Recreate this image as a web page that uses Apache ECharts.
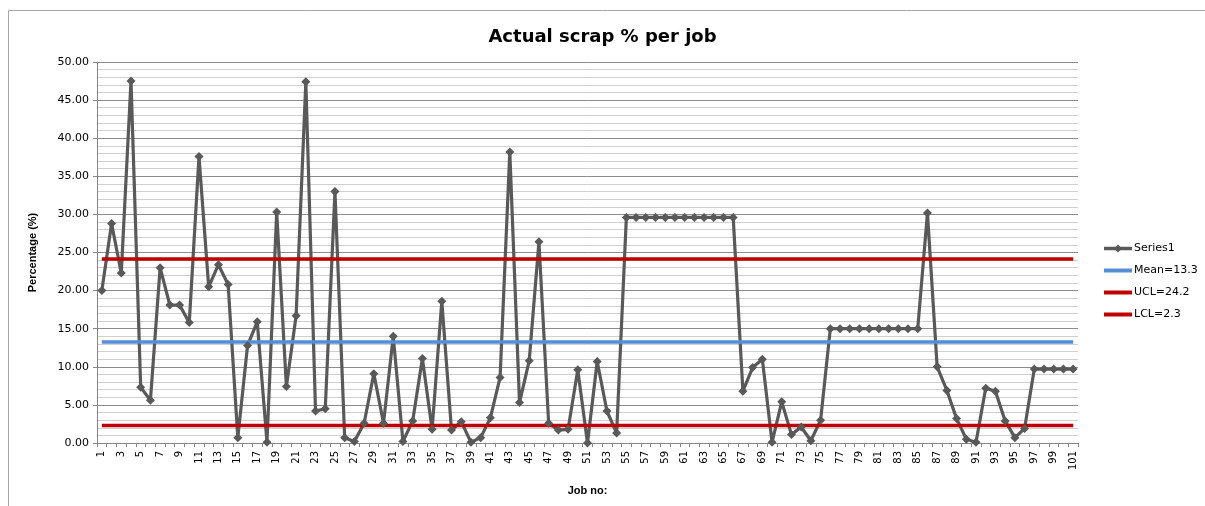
<!DOCTYPE html>
<html>
<head>
<meta charset="utf-8">
<script src="https://cdn.jsdelivr.net/npm/echarts@6/dist/echarts.min.js"></script>
<style>
html,body{margin:0;padding:0;background:#fff;}
#chart{width:1205px;height:506px;}
</style>
</head>
<body>
<div id="chart"></div>
<script>
// ---- data ----
const jobs = ['1','2','3','4','5','6','7','8','9','10','11','12','13','14','15','16','17','18','19','20',
  '21','22','23','24','25','26','27','28','29','30','31','32','33','34','35','36','37','38','39','40',
  '41','42','43','44','45','46','47','48','49','50','51','52','53','54','55','56','57','58','59','60',
  '61','62','63','64','65','66','67','68','69','70','71','72','73','74','75','76','77','78','79','80',
  '81','82','83','84','85','86','87','88','89','90','91','92','93','94','95','96','97','98','99','100','101'];
const scrap = [20.0,28.8,22.3,47.5,7.3,5.6,23.0,18.1,18.1,15.8,
  37.6,20.5,23.4,20.8,0.7,12.8,15.9,0.1,30.3,7.4,
  16.7,47.4,4.2,4.5,33.0,0.7,0.2,2.6,9.1,2.6,
  14.0,0.2,2.9,11.1,1.8,18.6,1.7,2.8,0.1,0.7,
  3.3,8.6,38.2,5.3,10.8,26.4,2.6,1.7,1.8,9.6,
  0.0,10.7,4.2,1.3,29.6,29.6,29.6,29.6,29.6,29.6,
  29.6,29.6,29.6,29.6,29.6,29.6,6.8,9.9,11.0,0.1,
  5.4,1.1,2.1,0.3,3.0,15.0,15.0,15.0,15.0,15.0,
  15.0,15.0,15.0,15.0,15.0,30.2,10.0,6.9,3.2,0.5,
  0.1,7.2,6.8,2.9,0.7,1.9,9.7,9.7,9.7,9.7,9.7];
const MEAN = 13.25, UCL = 24.15, LCL = 2.3;
const seriesNames = ['Series1','Mean=13.3','UCL=24.2','LCL=2.3'];
const yTicks = {min:0, max:50, interval:5};

const chart = echarts.init(document.getElementById('chart'), null, {renderer:'canvas'});
const flat = v => jobs.map(() => v);
chart.setOption({
  animation:false,
  backgroundColor:'#fff',
  title:{text:'Actual scrap % per job', left:'center', top:23,
    textStyle:{fontFamily:'DejaVu Sans', fontWeight:'bold', fontSize:18, color:'#000'}},
  graphic:[{type:'rect', shape:{x:8.5,y:10.5,width:1300,height:600},
    style:{fill:'none', stroke:'#a6a6a6', lineWidth:1}, silent:true}],
  legend:{orient:'vertical', left:1097, top:238, itemWidth:28, itemHeight:10, itemGap:11,
    textStyle:{fontFamily:'DejaVu Sans', fontSize:11, color:'#000', padding:[0,0,0,-3]},
    data:[
      {name:seriesNames[0], lineStyle:{width:3.5}},
      {name:seriesNames[1], itemStyle:{opacity:0}, lineStyle:{width:4}},
      {name:seriesNames[2], itemStyle:{opacity:0}, lineStyle:{width:4}},
      {name:seriesNames[3], itemStyle:{opacity:0}, lineStyle:{width:4}}
    ]},
  grid:{left:97, right:127, top:62, bottom:63},
  xAxis:{type:'category', data:jobs, boundaryGap:true,
    name:'Job no:', nameLocation:'middle', nameGap:42,
    nameTextStyle:{fontFamily:'Liberation Sans', fontWeight:'bold', fontSize:11, color:'#000'},
    axisLine:{lineStyle:{color:'#868686', width:1}},
    axisTick:{show:true, interval:0, length:4, lineStyle:{color:'#868686'}},
    axisLabel:{interval:1, rotate:90, fontFamily:'DejaVu Sans', fontSize:10, color:'#000', margin:8},
    splitLine:{show:false}},
  yAxis:{type:'value', min:yTicks.min, max:yTicks.max, interval:yTicks.interval,
    name:'Percentage (%)', nameLocation:'middle', nameGap:59, nameRotate:90,
    nameTextStyle:{fontFamily:'Liberation Sans Narrow, Liberation Sans', fontWeight:'bold', fontSize:11, color:'#000'},
    axisLine:{show:true, lineStyle:{color:'#868686', width:1}},
    axisTick:{show:true, inside:false, length:4, lineStyle:{color:'#868686'}},
    axisLabel:{formatter:v=>v.toFixed(2), fontFamily:'DejaVu Sans', fontSize:11, color:'#000', margin:8},
    splitLine:{show:true, lineStyle:{color:'#8c8c8c', width:1}},
    minorTick:{show:false, splitNumber:5},
    minorSplitLine:{show:true, lineStyle:{color:'#cfcfcf', width:1}}},
  series:[
    {name:seriesNames[0], type:'line', data:scrap, symbol:'diamond', symbolSize:9,
      showAllSymbol:true,
      lineStyle:{color:'#595959', width:3.2}, itemStyle:{color:'#595959'}},
    {name:seriesNames[1], type:'line', data:flat(MEAN), symbol:'none', showSymbol:false,
      lineStyle:{color:'#558ed5', width:3.5}, itemStyle:{color:'#558ed5'}},
    {name:seriesNames[2], type:'line', data:flat(UCL), symbol:'none', showSymbol:false,
      lineStyle:{color:'#c00000', width:3.5}, itemStyle:{color:'#c00000'}},
    {name:seriesNames[3], type:'line', data:flat(LCL), symbol:'none', showSymbol:false,
      lineStyle:{color:'#c00000', width:3.5}, itemStyle:{color:'#c00000'}}
  ]
});
</script>
</body>
</html>
